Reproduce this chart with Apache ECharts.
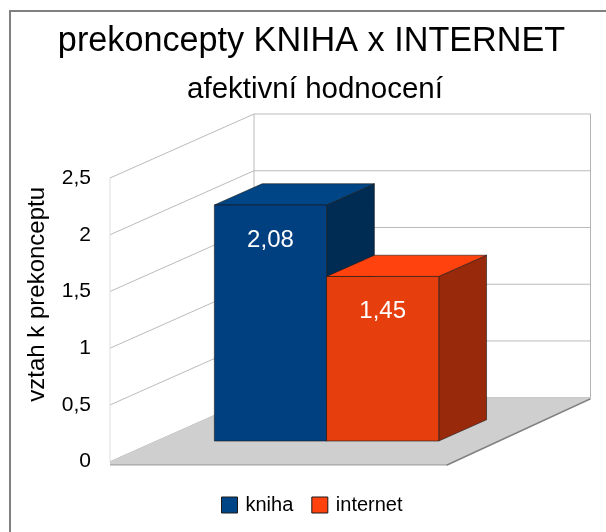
<!DOCTYPE html>
<html>
<head>
<meta charset="utf-8">
<title>prekoncepty KNIHA x INTERNET</title>
<script src="https://cdn.jsdelivr.net/npm/echarts@6/dist/echarts.min.js"></script>
<style>
  html, body { margin: 0; padding: 0; background: #fff; }
  #chart { width: 606px; height: 532px; }
</style>
</head>
<body>
<div id="chart"></div>
<script>
// hodnoty z grafu
const seriesNames = ['kniha', 'internet'];
const knihaValues = [2.08];
const internetValues = [1.45];
const categories = ['afektivní hodnocení'];
const yTicks = [0, 0.5, 1, 1.5, 2, 2.5];

const FONT = '"Liberation Sans", Arial, sans-serif';

// fake 3D: posun z predni roviny na zadni stenu
const DEPTH_X = 144;
const DEPTH_Y = -64;
const BAR_START = 0.323; // kde v hloubce sloupec zacina
const BAR_END = 0.655;   // a kde konci
const GRID_LINE = '#bdbaba';

const barStyles = [
  { front: '#004080', top: '#004586', side: '#002b52' },
  { front: '#e63e0d', top: '#ff420e', side: '#98290a' }
];

const comma = v => String(v).replace('.', ',');

// mrizka na leve a zadni stene
function renderGridLine(params, api) {
  const p = api.coord([0, api.value(0)]);
  const band = api.size([1, 0])[0];
  const x0 = p[0] - band / 2;
  const x1 = p[0] + band / 2;
  return {
    type: 'polyline',
    shape: { points: [[x0, p[1]], [x0 + DEPTH_X, p[1] + DEPTH_Y], [x1 + DEPTH_X, p[1] + DEPTH_Y]] },
    style: { stroke: GRID_LINE, lineWidth: 1, fill: null },
    silent: true
  };
}

// podlaha a svisle hrany sten
function renderFrame(params, api) {
  const base = api.coord([0, 0]);
  const top = api.coord([0, 2.5]);
  const band = api.size([1, 0])[0];
  const x0 = base[0] - band / 2;
  const x1 = base[0] + band / 2;
  const y = base[1];
  const line = (a, b, stroke, w) => ({
    type: 'line',
    shape: { x1: a[0], y1: a[1], x2: b[0], y2: b[1] },
    style: { stroke: stroke, lineWidth: w }
  });
  return {
    type: 'group',
    children: [
      line([x0, y], [x0, top[1]], '#dddddd', 1),
      line([x0 + DEPTH_X, y + DEPTH_Y], [x0 + DEPTH_X, top[1] + DEPTH_Y], '#bdbaba', 1),
      line([x1 + DEPTH_X, y + DEPTH_Y], [x1 + DEPTH_X, top[1] + DEPTH_Y], '#b3b3b3', 1),
      {
        type: 'polygon',
        shape: { points: [
          [x0, y], [x0 + DEPTH_X, y + DEPTH_Y], [x1 + DEPTH_X, y + DEPTH_Y],
          [x1, y + 3.5], [x0, y + 3.5]
        ] },
        style: { fill: '#cfcfcf' }
      },
      line([x0, y + 3], [x1, y + 3], '#b0b0b0', 1.5),
      line([x1, y + 3.5], [x1 + DEPTH_X, y + DEPTH_Y + 1], '#808080', 1.5)
    ]
  };
}

// sloupec jako tri plochy
function renderBar(seriesIndex) {
  return function (params, api) {
    const value = api.value(1);
    const center = api.coord([api.value(0), value]);
    const zero = api.coord([api.value(0), 0]);
    const band = api.size([1, 0])[0];
    const width = band / 3;
    const sx = DEPTH_X * BAR_START, sy = DEPTH_Y * BAR_START;
    const dx = DEPTH_X * (BAR_END - BAR_START), dy = DEPTH_Y * (BAR_END - BAR_START);
    const l = center[0] - band / 2 + band * 0.172 + seriesIndex * width + sx;
    const r = l + width;
    const t = center[1] + sy;
    const b = zero[1] + sy;
    const c = barStyles[seriesIndex];
    const edge = '#1a1a1a';
    const face = (points, fill) => ({
      type: 'polygon',
      shape: { points: points },
      style: { fill: fill, stroke: edge, lineWidth: 0.6 }
    });
    return {
      type: 'group',
      children: [
        face([[r, t], [r + dx, t + dy], [r + dx, b + dy], [r, b]], c.side),
        face([[l, t], [l + dx, t + dy], [r + dx, t + dy], [r, t]], c.top),
        face([[l, t], [r, t], [r, b], [l, b]], c.front),
        {
          type: 'text',
          x: (l + r) / 2,
          y: t + 35,
          style: {
            text: comma(value),
            fill: '#ffffff',
            font: '24px ' + FONT,
            align: 'center',
            verticalAlign: 'middle'
          }
        }
      ]
    };
  };
}

const chart = echarts.init(document.getElementById('chart'), null, { renderer: 'canvas' });

chart.setOption({
  animation: false,
  backgroundColor: '#ffffff',
  textStyle: { fontFamily: FONT },
  title: [
    {
      text: 'prekoncepty KNIHA x INTERNET',
      left: 306.5, top: 20, textAlign: 'center',
      textStyle: { fontSize: 34.2, fontWeight: 'normal', color: '#000', fontFamily: FONT }
    },
    {
      text: 'afektivní hodnocení',
      left: 310, top: 70, textAlign: 'center',
      textStyle: { fontSize: 29.5, fontWeight: 'normal', color: '#000', fontFamily: FONT }
    }
  ],
  legend: {
    data: seriesNames,
    left: 216,
    top: 490,
    icon: 'rect',
    itemWidth: 16,
    itemHeight: 16,
    itemGap: 18,
    itemStyle: { borderColor: '#1a1a1a', borderWidth: 1 },
    textStyle: { fontSize: 20, color: '#000', fontFamily: FONT, padding: [0, 0, 0, 3] }
  },
  grid: { left: 110, top: 178, width: 336.5, height: 283.7 },
  xAxis: {
    type: 'category',
    data: categories,
    axisLine: { show: false },
    axisTick: { show: false },
    axisLabel: { show: false }
  },
  yAxis: {
    type: 'value',
    min: 0,
    max: 2.5,
    interval: 0.5,
    name: 'vztah k prekonceptu',
    nameLocation: 'middle',
    nameGap: 61,
    nameRotate: 90,
    nameTextStyle: { fontSize: 24, color: '#000', fontFamily: FONT, padding: [0, 0, 0, 51] },
    axisLine: { show: false },
    axisTick: { show: false },
    splitLine: { show: false },
    axisLabel: { fontSize: 21, color: '#000', margin: 19, fontFamily: FONT, formatter: comma }
  },
  graphic: [
    {
      type: 'polyline',
      shape: { points: [[10, 532], [10, 11], [606, 11]] },
      style: { stroke: '#808080', lineWidth: 2, fill: null }
    }
  ],
  series: [
    {
      name: 'mrizka',
      type: 'custom',
      coordinateSystem: 'cartesian2d',
      renderItem: renderGridLine,
      data: yTicks.map(v => [v]),
      encode: { y: 0 },
      silent: true,
      z: 1
    },
    {
      name: 'podlaha',
      type: 'custom',
      coordinateSystem: 'cartesian2d',
      renderItem: renderFrame,
      data: [[0, 0]],
      silent: true,
      z: 2
    },
    {
      name: seriesNames[0],
      type: 'custom',
      coordinateSystem: 'cartesian2d',
      renderItem: renderBar(0),
      itemStyle: { color: barStyles[0].top },
      data: knihaValues.map((v, i) => [i, v]),
      z: 3
    },
    {
      name: seriesNames[1],
      type: 'custom',
      coordinateSystem: 'cartesian2d',
      renderItem: renderBar(1),
      itemStyle: { color: barStyles[1].top },
      data: internetValues.map((v, i) => [i, v]),
      z: 4
    }
  ]
});
</script>
</body>
</html>
